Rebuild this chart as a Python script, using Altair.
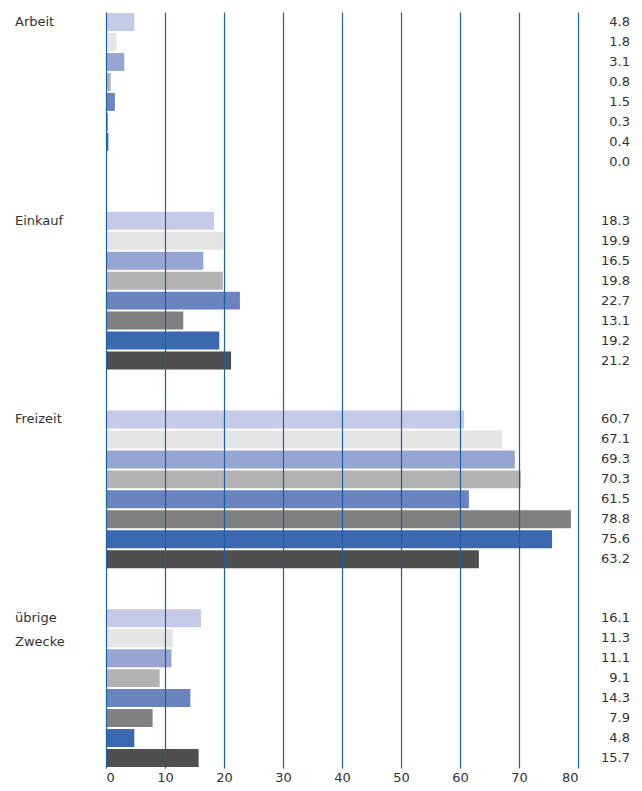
import altair as alt
import pandas as pd

categories = ["Arbeit", "Einkauf", "Freizeit", "übrige Zwecke"]
series = ["S1", "S2", "S3", "S4", "S5", "S6", "S7", "S8"]
colors = ["#c5cae6", "#e5e5e5", "#96a5d2", "#b2b2b2", "#6b83be", "#808080", "#3a69b0", "#4f4f4f"]

arbeit = [4.8, 1.8, 3.1, 0.8, 1.5, 0.3, 0.4, 0.0]
einkauf = [18.3, 19.9, 16.5, 19.8, 22.7, 13.1, 19.2, 21.2]
freizeit = [60.7, 67.1, 69.3, 70.3, 61.5, 78.8, 75.6, 63.2]
uebrige = [16.1, 11.3, 11.1, 9.1, 14.3, 7.9, 4.8, 15.7]

x_ticks = [0, 10, 20, 30, 40, 50, 60, 70, 80]

rows = []
for cat, vals in zip(categories, [arbeit, einkauf, freizeit, uebrige]):
    for s, v in zip(series, vals):
        rows.append({"cat": cat, "series": s, "value": v, "label": f"{v:.1f}"})
df = pd.DataFrame(rows)
cat_df = pd.DataFrame({"cat": categories, "text": ["Arbeit", "Einkauf", "Freizeit", "übrige\nZwecke"]})

FONT = "DejaVu Sans"

y_enc = alt.Y("cat:N", sort=categories, axis=None,
              scale=alt.Scale(paddingInner=0.196, paddingOuter=0))
yoff = alt.YOffset("series:N", sort=series,
                   scale=alt.Scale(paddingInner=0.1, paddingOuter=0.05))

bars = alt.Chart(df).mark_bar().encode(
    x=alt.X("value:Q", scale=alt.Scale(domain=[0, 80], nice=False),
            axis=alt.Axis(values=x_ticks, title=None, grid=True, gridColor="#1a5fa8",
                          gridWidth=1.2, gridOpacity=1, domain=False, ticks=False,
                          labelFont=FONT, labelFontSize=13, labelColor="#333333",
                          labelPadding=3, zindex=1)),
    y=y_enc,
    yOffset=yoff,
    color=alt.Color("series:N", sort=series,
                    scale=alt.Scale(domain=series, range=colors), legend=None),
)

values = alt.Chart(df).mark_text(align="right", baseline="middle", font=FONT,
                                 fontSize=13, color="#333333").encode(
    x=alt.value(524),
    y=y_enc,
    yOffset=yoff,
    text="label:N",
)

cat_labels = alt.Chart(cat_df).mark_text(align="left", baseline="top", font=FONT,
                                         fontSize=13, color="#333333", lineBreak="\n",
                                         lineHeight=24, dy=4).encode(
    x=alt.value(-91),
    y=alt.Y("cat:N", sort=categories, axis=None, bandPosition=0,
            scale=alt.Scale(paddingInner=0.196, paddingOuter=0)),
    text="text:N",
)

chart = alt.layer(bars, values, cat_labels).properties(
    width=472, height=756,
    autosize=alt.AutoSizeParams(type="none"),
    padding={"left": 98, "top": 4, "right": 54, "bottom": 15},
).configure_view(stroke=None)

chart.save("out.html", embed_options={"renderer": "svg", "actions": False})
